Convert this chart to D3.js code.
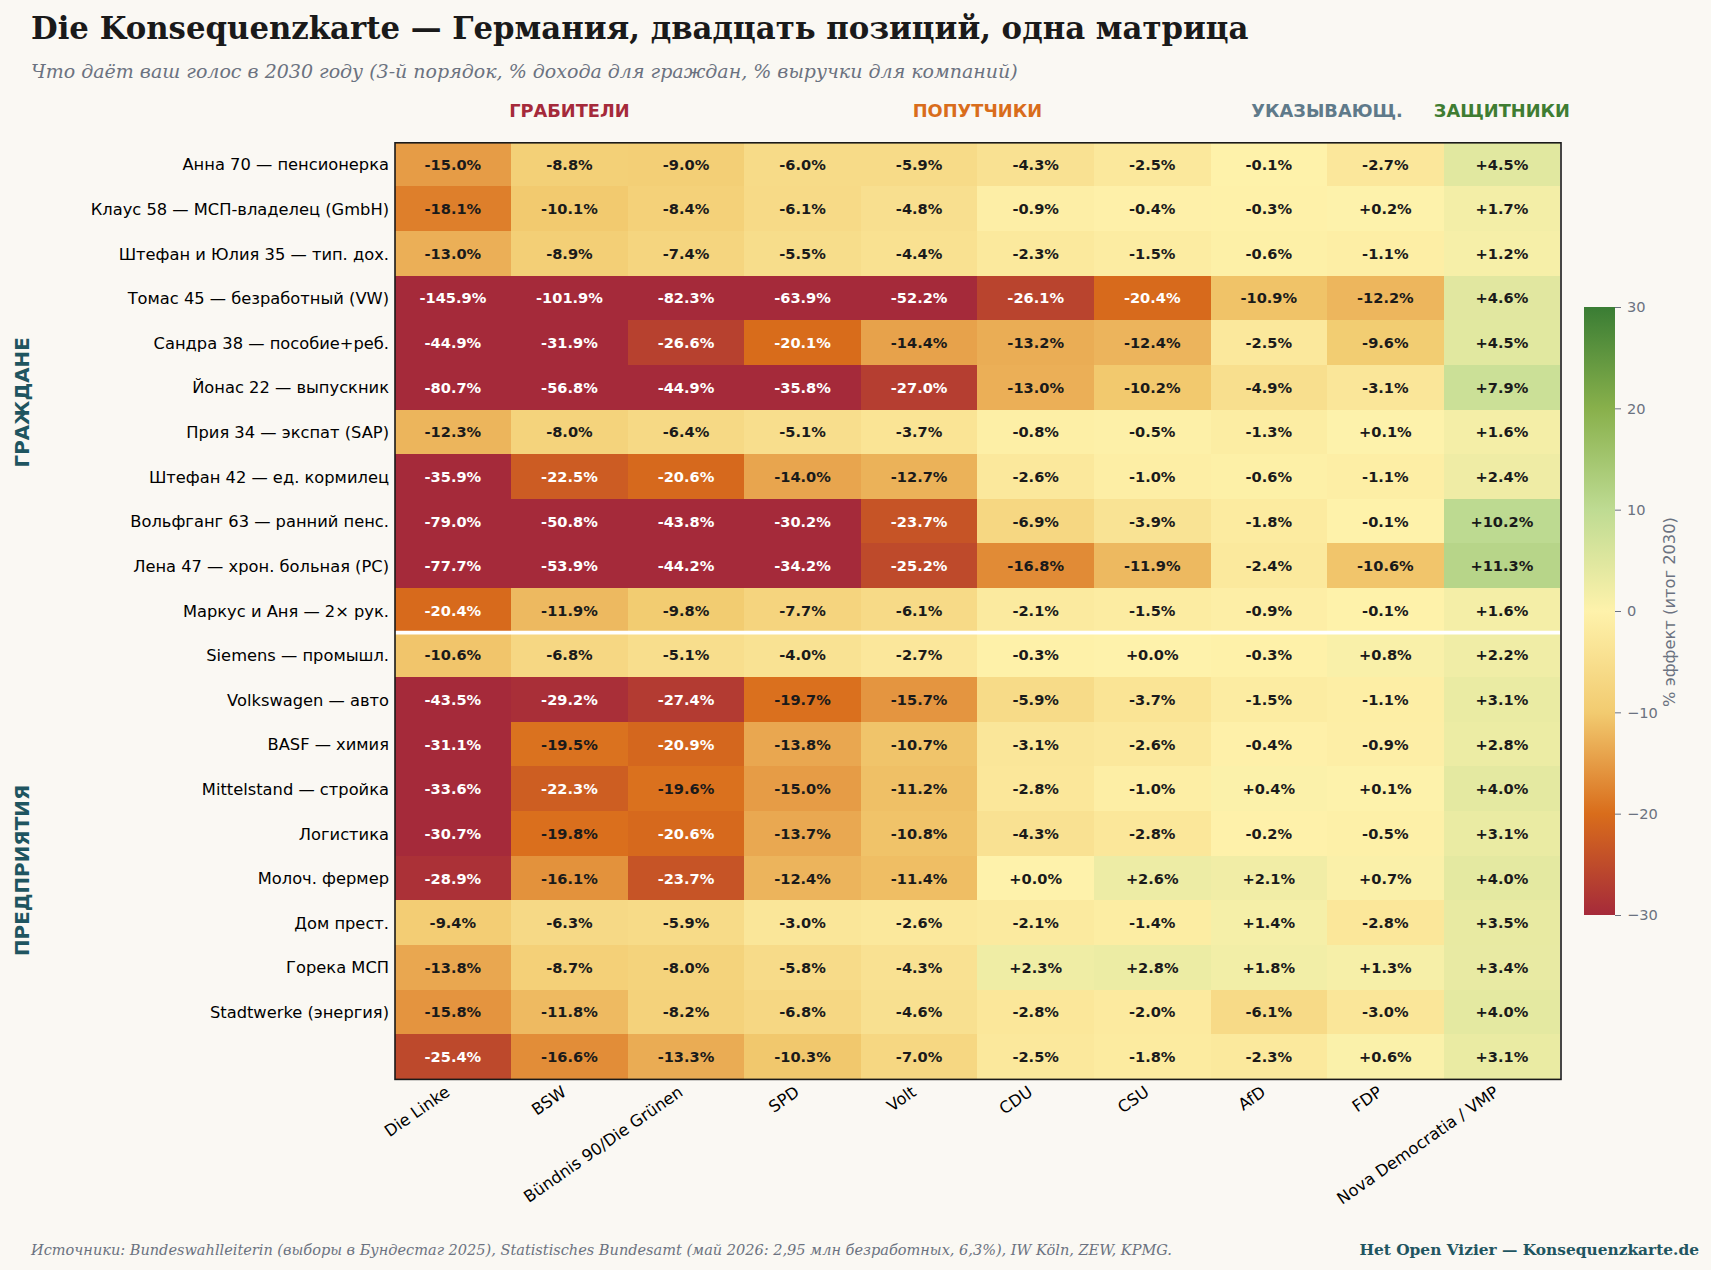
<!DOCTYPE html>
<html lang="ru"><head><meta charset="utf-8">
<script src="https://cdn.jsdelivr.net/npm/d3@7/dist/d3.min.js"></script>
<style>
html,body{margin:0;padding:0;background:#faf8f3;}
svg{display:block;}
text{font-family:"DejaVu Sans",sans-serif;}
.serif{font-family:"DejaVu Serif",serif;}
</style></head><body>
<svg id="c" width="1711" height="1270"></svg>
<script>
const parties = ["Die Linke","BSW","Bündnis 90/Die Grünen","SPD","Volt","CDU","CSU","AfD","FDP","Nova Democratia / VMP"];
const personas = ["Анна 70 — пенсионерка","Клаус 58 — МСП-владелец (GmbH)","Штефан и Юлия 35 — тип. дох.","Томас 45 — безработный (VW)","Сандра 38 — пособие+реб.","Йонас 22 — выпускник","Прия 34 — экспат (SAP)","Штефан 42 — ед. кормилец","Вольфганг 63 — ранний пенс.","Лена 47 — хрон. больная (PC)","Маркус и Аня — 2× рук.","Siemens — промышл.","Volkswagen — авто","BASF — химия","Mittelstand — стройка","Логистика","Молоч. фермер","Дом прест.","Горека МСП","Stadtwerke (энергия)",""];
const values = [
[-15.0,-8.8,-9.0,-6.0,-5.9,-4.3,-2.5,-0.1,-2.7,4.5],
[-18.1,-10.1,-8.4,-6.1,-4.8,-0.9,-0.4,-0.3,0.2,1.7],
[-13.0,-8.9,-7.4,-5.5,-4.4,-2.3,-1.5,-0.6,-1.1,1.2],
[-145.9,-101.9,-82.3,-63.9,-52.2,-26.1,-20.4,-10.9,-12.2,4.6],
[-44.9,-31.9,-26.6,-20.1,-14.4,-13.2,-12.4,-2.5,-9.6,4.5],
[-80.7,-56.8,-44.9,-35.8,-27.0,-13.0,-10.2,-4.9,-3.1,7.9],
[-12.3,-8.0,-6.4,-5.1,-3.7,-0.8,-0.5,-1.3,0.1,1.6],
[-35.9,-22.5,-20.6,-14.0,-12.7,-2.6,-1.0,-0.6,-1.1,2.4],
[-79.0,-50.8,-43.8,-30.2,-23.7,-6.9,-3.9,-1.8,-0.1,10.2],
[-77.7,-53.9,-44.2,-34.2,-25.2,-16.8,-11.9,-2.4,-10.6,11.3],
[-20.4,-11.9,-9.8,-7.7,-6.1,-2.1,-1.5,-0.9,-0.1,1.6],
[-10.6,-6.8,-5.1,-4.0,-2.7,-0.3,0.0,-0.3,0.8,2.2],
[-43.5,-29.2,-27.4,-19.7,-15.7,-5.9,-3.7,-1.5,-1.1,3.1],
[-31.1,-19.5,-20.9,-13.8,-10.7,-3.1,-2.6,-0.4,-0.9,2.8],
[-33.6,-22.3,-19.6,-15.0,-11.2,-2.8,-1.0,0.4,0.1,4.0],
[-30.7,-19.8,-20.6,-13.7,-10.8,-4.3,-2.8,-0.2,-0.5,3.1],
[-28.9,-16.1,-23.7,-12.4,-11.4,0.0,2.6,2.1,0.7,4.0],
[-9.4,-6.3,-5.9,-3.0,-2.6,-2.1,-1.4,1.4,-2.8,3.5],
[-13.8,-8.7,-8.0,-5.8,-4.3,2.3,2.8,1.8,1.3,3.4],
[-15.8,-11.8,-8.2,-6.8,-4.6,-2.8,-2.0,-6.1,-3.0,4.0],
[-25.4,-16.6,-13.3,-10.3,-7.0,-2.5,-1.8,-2.3,0.6,3.1]
];
const partyGroups = [
 {label:"ГРАБИТЕЛИ",first:"Die Linke",last:"Bündnis 90/Die Grünen",color:"#a52a3a"},
 {label:"ПОПУТЧИКИ",first:"SPD",last:"CSU",color:"#d96d1b"},
 {label:"УКАЗЫВАЮЩ.",first:"AfD",last:"FDP",color:"#5f7a8a"},
 {label:"ЗАЩИТНИКИ",first:"Nova Democratia / VMP",last:"Nova Democratia / VMP",color:"#3f7d32"}
];
const colorDomain = [-30,-20,-10,0,10,20,30];
const colorRange = ["#a52a3a","#d96d1b","#f2cb70","#fef2ab","#bedb92","#88b04b","#3a7d34"];
const colorTicks = [-30,-20,-10,0,10,20,30];

const svg = d3.select("#c");
const x0=394.6,x1=1560.2,y0=141.8,y1=1078.8;
const x = d3.scaleBand().domain(parties).range([x0,x1]);
const y = d3.scaleBand().domain(d3.range(personas.length)).range([y0,y1]);
const color = d3.scaleLinear().domain(colorDomain).range(colorRange).clamp(true);
const fmt = v=>d3.format("+.1f")(v).replace("−","-");

svg.append("rect").attr("width",1711).attr("height",1270).attr("fill","#faf8f3");

// cells
const rowsG = svg.append("g");
values.forEach((row,i)=>row.forEach((v,j)=>{
  rowsG.append("rect").attr("x",x(parties[j])).attr("y",y(i))
    .attr("width",x.bandwidth()).attr("height",y.bandwidth()).attr("fill",color(v)).attr("shape-rendering","crispEdges");
}));
values.forEach((row,i)=>row.forEach((v,j)=>{
  rowsG.append("text").attr("x",x(parties[j])+x.bandwidth()/2).attr("y",y(i)+y.bandwidth()/2+0.4)
    .attr("dy","0.35em").attr("text-anchor","middle").attr("font-size",14.6).attr("font-weight","bold")
    .attr("fill",Math.abs(v)>20?"#ffffff":"#1a1a1a").text(fmt(v)+"%");
}));

// separator between citizens and companies
svg.append("line").attr("x1",395).attr("x2",1561).attr("y1",y(11)).attr("y2",y(11))
  .attr("stroke","#fff").attr("stroke-width",3.6);

// frame
svg.append("rect").attr("x",395).attr("y",142.8).attr("width",1166).attr("height",936.6)
  .attr("fill","none").attr("stroke","#1a1a1a").attr("stroke-width",1.6);

// axes
const yAxis = d3.axisLeft(y).tickSize(0).tickPadding(6).tickFormat(i=>personas[i]);
const yg = svg.append("g").attr("transform",`translate(395,1)`).call(yAxis);
yg.select(".domain").remove();
yg.selectAll("text").attr("font-size",16.3).attr("fill","#000").style("font-family",'"DejaVu Sans"');

const xAxis = d3.axisBottom(x).tickSize(0).tickPadding(0);
const xg = svg.append("g").attr("transform",`translate(0,1079)`).call(xAxis);
xg.select(".domain").remove();
xg.selectAll("text").attr("font-size",16.3).attr("fill","#000").style("font-family",'"DejaVu Sans"')
  .attr("text-anchor","end").attr("y",0).attr("dy",0)
  .attr("transform","translate(-2,15.5) rotate(-35)");

// party group headers
partyGroups.forEach(g=>{
  svg.append("text").attr("x",(x(g.first)+x(g.last)+x.bandwidth())/2).attr("y",116.5)
    .attr("text-anchor","middle").attr("font-size",17.8).attr("font-weight","bold").attr("fill",g.color).text(g.label);
});

// side labels
[["ГРАЖДАНЕ",5.84],["ПРЕДПРИЯТИЯ",16.33]].forEach(([t,r])=>{
  svg.append("text").attr("transform",`translate(29,${y0+r*y.step()}) rotate(-90)`)
    .attr("text-anchor","middle").attr("font-size",19.9).attr("font-weight","bold").attr("fill","#1f5560").text(t);
});

// titles
svg.append("text").attr("class","serif").attr("x",31).attr("y",39).attr("font-size",30.77).attr("font-weight","bold").attr("fill","#1a1a1a")
  .text("Die Konsequenzkarte — Германия, двадцать позиций, одна матрица");
svg.append("text").attr("class","serif").attr("x",31).attr("y",78).attr("font-size",19).attr("font-style","italic").attr("fill","#6b7280")
  .text("Что даёт ваш голос в 2030 году (3-й порядок, % дохода для граждан, % выручки для компаний)");
svg.append("text").attr("class","serif").attr("x",31).attr("y",1255).attr("font-size",14.52).attr("font-style","italic").attr("fill","#6b7280")
  .text("Источники: Bundeswahlleiterin (выборы в Бундестаг 2025), Statistisches Bundesamt (май 2026: 2,95 млн безработных, 6,3%), IW Köln, ZEW, KPMG.");
svg.append("text").attr("class","serif").attr("x",1699).attr("y",1255).attr("text-anchor","end").attr("font-size",15.4).attr("font-weight","bold").attr("fill","#1f5560")
  .text("Het Open Vizier — Konsequenzkarte.de");

// colorbar
const cbY = d3.scaleLinear().domain([-30,30]).range([915,307]);
const defs = svg.append("defs");
const grad = defs.append("linearGradient").attr("id","cb").attr("x1",0).attr("x2",0).attr("y1",1).attr("y2",0);
colorDomain.forEach(d=>grad.append("stop").attr("offset",(d+30)/60).attr("stop-color",color(d)));
svg.append("rect").attr("x",1584).attr("y",cbY(30)).attr("width",31).attr("height",cbY(-30)-cbY(30)).attr("fill","url(#cb)");
const cbAxis = d3.axisRight(cbY).tickValues(colorTicks).tickSize(6).tickPadding(6).tickFormat(d=>String(d).replace("-","−"));
const cg = svg.append("g").attr("transform","translate(1615,0)").call(cbAxis);
cg.select(".domain").remove();
cg.selectAll("line").attr("stroke","#6b7280");
cg.selectAll("text").attr("fill","#6b7280").attr("font-size",14.6).style("font-family",'"DejaVu Sans"');
svg.append("text").attr("transform",`translate(1675,${cbY(0)+1}) rotate(-90)`).attr("text-anchor","middle")
  .attr("font-size",16.3).attr("fill","#6b7280").text("% эффект (итог 2030)");
</script></body></html>
